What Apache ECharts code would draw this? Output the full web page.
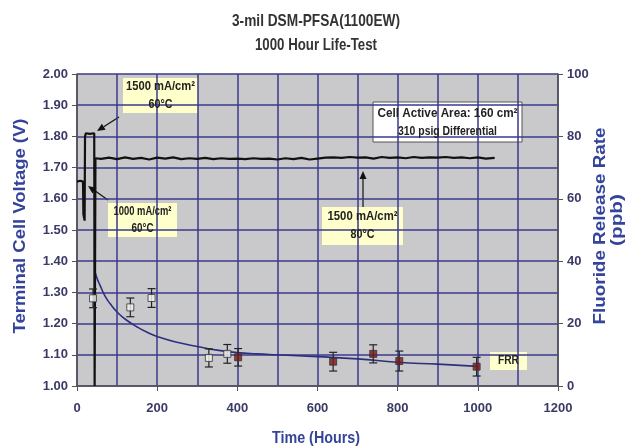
<!DOCTYPE html>
<html><head><meta charset="utf-8">
<script src="https://cdn.jsdelivr.net/npm/echarts@6/dist/echarts.min.js"></script>
<style>html,body{margin:0;padding:0;background:#fff}#c{width:631px;height:448px}</style>
</head><body><div id="c"></div>
<script>
// ---- data ----
const titleLines = ['3-mil DSM-PFSA(1100EW)', '1000 Hour Life-Test'];
const xName = 'Time (Hours)';
const leftName = 'Terminal Cell Voltage (V)';
const rightNameLines = ['Fluoride Release Rate', '(ppb)'];
const xTicks = [0, 200, 400, 600, 800, 1000, 1200];
const leftTicks = [1.0, 1.1, 1.2, 1.3, 1.4, 1.5, 1.6, 1.7, 1.8, 1.9, 2.0];
const rightTicks = [0, 20, 40, 60, 80, 100];

const voltHours = [0, 8, 15, 16, 19, 20, 22, 32, 43, 44, 45, 46, 60, 80, 100, 120, 140, 160, 180, 200, 220, 240, 260, 280, 300, 320, 340, 360, 380, 400, 420, 440, 460, 480, 500, 520, 540, 560, 580, 600, 620, 640, 660, 680, 700, 720, 740, 760, 780, 800, 820, 840, 860, 880, 900, 920, 940, 960, 980, 1000, 1020, 1042];
const voltValues = [1.655, 1.658, 1.655, 1.55, 1.53, 1.80, 1.81, 1.808, 1.81, 1.00, 1.00, 1.73, 1.728, 1.732, 1.727, 1.733, 1.728, 1.731, 1.726, 1.732, 1.729, 1.733, 1.727, 1.730, 1.728, 1.731, 1.727, 1.730, 1.728, 1.729, 1.727, 1.730, 1.728, 1.729, 1.726, 1.730, 1.727, 1.731, 1.726, 1.729, 1.732, 1.733, 1.731, 1.734, 1.732, 1.733, 1.729, 1.734, 1.731, 1.733, 1.730, 1.734, 1.731, 1.733, 1.732, 1.734, 1.731, 1.733, 1.730, 1.733, 1.729, 1.731];

const trendHours = [45, 50, 57, 70, 82, 103, 125, 149, 175, 201, 249, 303, 350, 400, 450, 500, 600, 700, 800, 900, 1000];
const trendFRR = [36.6, 34.5, 32.4, 28.8, 26.5, 23.3, 21, 19, 17.2, 15.8, 14, 12.6, 11.5, 10.7, 10.3, 10, 9.4, 8.7, 7.6, 7, 6.3];

const openHours = [40, 133, 186, 329, 375];
const openFRR = [28.1, 25.2, 28.2, 9.0, 10.3];
const openErr = [3.0, 3.0, 3.0, 2.9, 3.0];

const filledHours = [402, 639, 739, 804, 997];
const filledFRR = [9.2, 7.8, 10.3, 8.0, 6.2];
const filledErr = [2.8, 3.0, 2.9, 3.2, 3.0];

// ---- build ----
const zip = (a, b) => a.map((v, i) => [v, b[i]]);
const errData = openHours.map((h, i) => [h, openFRR[i] - openErr[i], openFRR[i] + openErr[i]])
  .concat(filledHours.map((h, i) => [h, filledFRR[i] - filledErr[i], filledFRR[i] + filledErr[i]]));

const FONT = '"Liberation Sans", Arial, sans-serif';
const GRIDC = '#3a3a8c';
const LABC = '#3a3a66';
const NAMEC = '#33449a';

const mctx = document.createElement('canvas').getContext('2d');
function measure(text, font) { mctx.font = font; return mctx.measureText(text).width; }

// text line fitted (horizontally scaled) to a target width, centred on (cx, cy)
function fitText(text, size, cx, cy, targetW, color, rot) {
  const font = 'bold ' + size + 'px ' + FONT;
  const s = targetW / measure(text, font);
  return { type: 'text', x: cx, y: cy, scaleX: s, rotation: rot || 0, z: 110,
    style: { text: text, font: font, fill: color, align: 'center', verticalAlign: 'middle' } };
}

function errRender(params, api) {
  const x = api.value(0), lo = api.value(1), hi = api.value(2);
  const a = api.coord([x, hi]), b = api.coord([x, lo]);
  const w = 4;
  const st = { stroke: '#222', lineWidth: 1.2 };
  return { type: 'group', children: [
    { type: 'line', shape: { x1: a[0], y1: a[1], x2: b[0], y2: b[1] }, style: st },
    { type: 'line', shape: { x1: a[0] - w, y1: a[1], x2: a[0] + w, y2: a[1] }, style: st },
    { type: 'line', shape: { x1: b[0] - w, y1: b[1], x2: b[0] + w, y2: b[1] }, style: st }
  ]};
}

// box with lines; widths = target width of each line
function box(x, y, w, h, lines, widths, fill, stroke, fs, lh) {
  const n = lines.length, cx = x + w / 2, cy = y + h / 2;
  const children = [{ type: 'rect', shape: { x: x, y: y, width: w, height: h },
    style: { fill: fill, stroke: stroke || null, lineWidth: stroke ? 1 : 0 } }];
  lines.forEach((t, i) => children.push(fitText(t, fs, cx, cy + (i - (n - 1) / 2) * lh, widths[i], '#222')));
  return { type: 'group', z: 100, children: children };
}
function arrow(x1, y1, x2, y2) {
  const ang = Math.atan2(y2 - y1, x2 - x1), L = 8, W = 3.5;
  const bx = x2 - L * Math.cos(ang), by = y2 - L * Math.sin(ang);
  const px = -Math.sin(ang) * W, py = Math.cos(ang) * W;
  return { type: 'group', z: 100, children: [
    { type: 'line', shape: { x1: x1, y1: y1, x2: bx, y2: by }, style: { stroke: '#111', lineWidth: 1.2 } },
    { type: 'polygon', shape: { points: [[x2, y2], [bx + px, by + py], [bx - px, by - py]] }, style: { fill: '#111' } }
  ]};
}

const chart = echarts.init(document.getElementById('c'), null, { renderer: 'canvas' });

chart.setOption({
  animation: false,
  backgroundColor: '#fff',
  grid: { left: 77, right: 73, top: 74, bottom: 62, show: true, backgroundColor: '#c9c9cc', borderWidth: 0 },
  xAxis: {
    type: 'value', min: xTicks[0], max: xTicks[xTicks.length - 1], interval: 200,
    axisLine: { lineStyle: { color: '#555', width: 1.5 } },
    axisTick: { show: true, length: 5, lineStyle: { color: '#555' } },
    axisLabel: { fontFamily: FONT, fontWeight: 'bold', fontSize: 13, color: LABC, margin: 16,
      formatter: v => String(v) },
    splitLine: { show: true, lineStyle: { color: GRIDC, width: 1.5 } },
    minorTick: { show: false, splitNumber: 2 },
    minorSplitLine: { show: true, lineStyle: { color: GRIDC, width: 1.5 } }
  },
  yAxis: [{
    type: 'value', min: leftTicks[0], max: leftTicks[leftTicks.length - 1], interval: 0.1,
    axisLine: { show: true, lineStyle: { color: '#555', width: 1.5 } },
    axisTick: { show: true, length: 5, lineStyle: { color: '#555' } },
    axisLabel: { fontFamily: FONT, fontWeight: 'bold', fontSize: 13, color: LABC, margin: 9,
      formatter: v => v.toFixed(2) },
    splitLine: { show: true, lineStyle: { color: GRIDC, width: 1.5 } }
  }, {
    type: 'value', min: rightTicks[0], max: rightTicks[rightTicks.length - 1], interval: 20,
    position: 'right',
    axisLine: { show: true, lineStyle: { color: '#555', width: 1.5 } },
    axisTick: { show: true, length: 5, lineStyle: { color: '#555' } },
    axisLabel: { fontFamily: FONT, fontWeight: 'bold', fontSize: 13, color: LABC, margin: 9 },
    splitLine: { show: false }
  }],
  series: [
    { name: 'Voltage', type: 'line', yAxisIndex: 0, data: zip(voltHours, voltValues),
      showSymbol: false, lineStyle: { color: '#111', width: 2.2 }, z: 5 },
    { name: 'FRR trend', type: 'line', yAxisIndex: 1, data: zip(trendHours, trendFRR), smooth: true,
      showSymbol: false, lineStyle: { color: '#2c2f7e', width: 1.6 }, z: 4 },
    { name: 'err', type: 'custom', yAxisIndex: 1, data: errData, renderItem: errRender, z: 6 },
    { name: 'open', type: 'scatter', yAxisIndex: 1, data: zip(openHours, openFRR), symbol: 'rect', symbolSize: 7,
      itemStyle: { color: '#f4f4f4', borderColor: '#333', borderWidth: 1 }, z: 7 },
    { name: 'filled', type: 'scatter', yAxisIndex: 1, data: zip(filledHours, filledFRR), symbol: 'rect', symbolSize: 7,
      itemStyle: { color: '#7a1a1a', borderColor: '#333', borderWidth: 1 }, z: 7 }
  ],
  graphic: [
    fitText(titleLines[0], 17, 316, 21, 168, '#333'),
    fitText(titleLines[1], 17, 316, 45, 122, '#333'),
    fitText(xName, 16, 316, 439, 88, NAMEC),
    fitText(leftName, 16, 21, 226, 215, NAMEC, Math.PI / 2),
    fitText(rightNameLines[0], 17, 600, 226, 197, NAMEC, Math.PI / 2),
    fitText(rightNameLines[1], 17, 617, 220, 52, NAMEC, Math.PI / 2),
    box(123, 78, 75, 35, ['1500 mA/cm²', '60°C'], [69, 24], '#ffffcc', null, 12, 18),
    arrow(119, 117, 97, 131),
    box(108, 203, 69, 34, ['1000 mA/cm²', '60°C'], [58, 22], '#ffffcc', null, 12, 17),
    arrow(108, 200, 88, 186),
    box(322, 207, 81, 38, ['1500 mA/cm²', '80°C'], [70, 24], '#ffffcc', null, 12, 18),
    arrow(363, 207, 363, 171),
    box(373, 102, 149, 40, ['Cell Active Area: 160 cm²', '310 psig Differential'], [140, 99], '#ffffff', '#555', 13, 18),
    box(490, 352, 37, 18, ['FRR'], [21], '#ffffcc', null, 12, 16)
  ]
});
</script></body></html>
